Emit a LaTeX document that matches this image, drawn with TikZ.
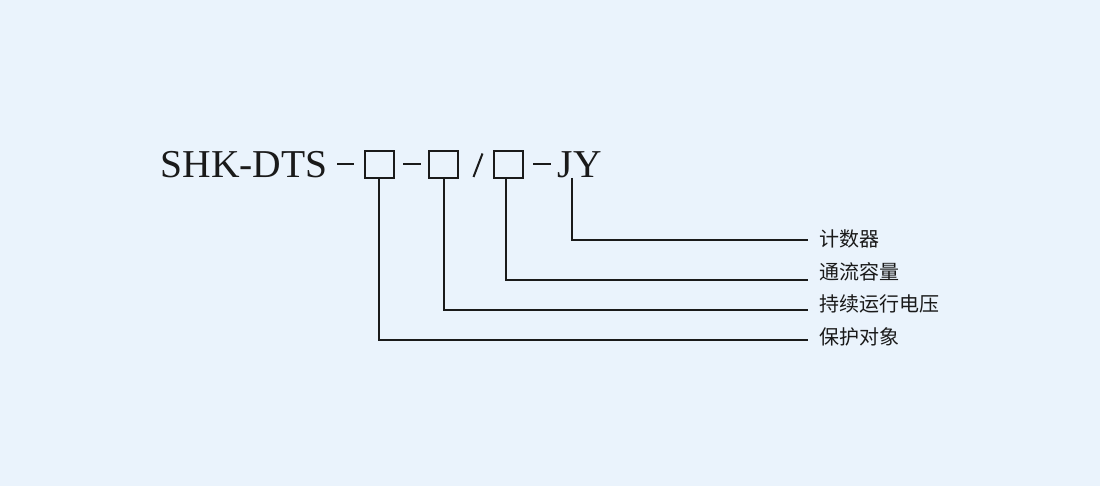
\documentclass[tikz,border=0pt]{standalone}
\usepackage{fontspec}
\setmainfont{Liberation Serif}
\newfontfamily\cjk{Noto Sans CJK SC}
\definecolor{bgc}{HTML}{EAF3FC}
\definecolor{ink}{HTML}{1A1A1A}
\begin{document}
\begin{tikzpicture}[x=1pt,y=-1pt,
  lw/.style={line width=2pt, draw=ink},
  slot/.style={lw, minimum width=29pt, minimum height=27.5pt, inner sep=0pt, anchor=north west},
  code/.style={inner sep=0pt, anchor=base west, text=ink, font=\fontsize{39.5}{39.5}\selectfont},
  lbl/.style={inner sep=0pt, anchor=base west, text=ink, font=\cjk\fontsize{20}{20}\selectfont}]
\fill[bgc] (0,0) rectangle (1100,486);
\useasboundingbox (0,0) rectangle (1100,486);
% main code
\node[code] (shk) at (160.5,178) {SHK-DTS};
\node[slot] (b1) at (364,150) {};
\node[slot] (b2) at (428,150) {};
\node[slot] (b3) at (493,150) {};
\node[code] (jy) at (557.5,178) {JY};
% separators
\coordinate (d1a) at (337,164); \coordinate (d1b) at (354,164);
\coordinate (d2a) at (403,164); \coordinate (d2b) at (421,164);
\coordinate (d3a) at (533,164); \coordinate (d3b) at (551,164);
\coordinate (sla) at (473.5,177); \coordinate (slb) at (482.5,153.5);
\draw[lw] (d1a) -- (d1b);
\draw[lw] (d2a) -- (d2b);
\draw[lw] (d3a) -- (d3b);
\draw[lw] (sla) -- (slb);
% labels
\node[lbl] (l1) at (819,247) {计数器};
\node[lbl] (l2) at (819,279.5) {通流容量};
\node[lbl] (l3) at (819,312) {持续运行电压};
\node[lbl] (l4) at (819,344) {保护对象};
% connector ends
\coordinate (jyb) at (572,178);
\coordinate (e1) at (808,240);
\coordinate (e2) at (808,280);
\coordinate (e3) at (808,310);
\coordinate (e4) at (808,340);
\draw[lw] (jyb) |- (e1);
\draw[lw] ([xshift=-2.5pt]b3.south) |- (e2);
\draw[lw] ([xshift=0.5pt]b2.south) |- (e3);
\draw[lw] ([xshift=-0.5pt]b1.south) |- (e4);
\end{tikzpicture}
\end{document}
